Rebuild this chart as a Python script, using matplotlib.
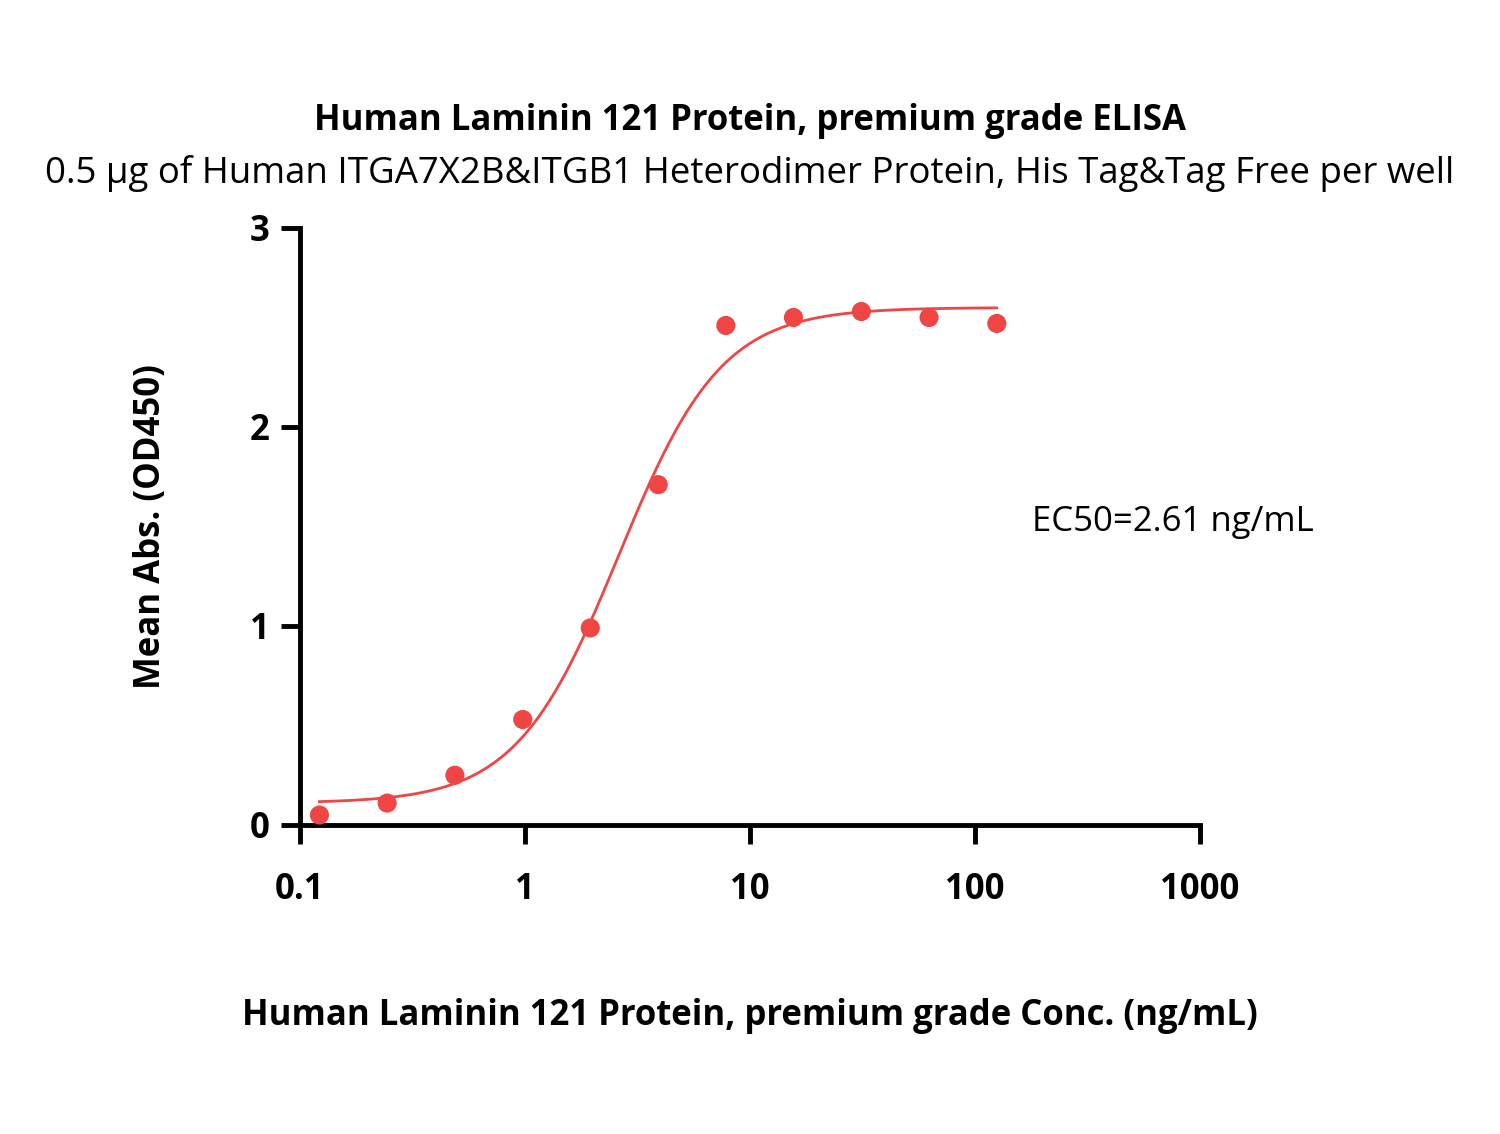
import numpy as np
import matplotlib.pyplot as plt

plt.rcParams['font.family'] = ['Open Sans', 'DejaVu Sans']

conc = [0.122, 0.244, 0.488, 0.977, 1.95, 3.91, 7.81, 15.6, 31.25, 62.5, 125]
od450 = [0.05, 0.11, 0.25, 0.53, 0.99, 1.71, 2.51, 2.55, 2.58, 2.55, 2.52]

# 4PL fit parameters
bottom, top, ec50, hill = 0.11, 2.60, 2.61, 1.9

red = '#f04545'

fig = plt.figure(figsize=(15, 11.34), dpi=100)
ax = fig.add_axes([0.2, 0.2725, 0.6, 0.5265])

xs = np.logspace(np.log10(conc[0]), np.log10(conc[-1]), 300)
ys = bottom + (top - bottom) / (1 + (ec50 / xs) ** hill)
ax.plot(xs, ys, color=red, lw=2)
ax.scatter(conc, od450, s=190, color=red, zorder=3, edgecolors='none')

ax.set_xscale('log')
ax.set_xlim(0.1, 1000)
ax.set_ylim(0, 3)
ax.set_xticks([0.1, 1, 10, 100, 1000])
ax.set_xticklabels(['0.1', '1', '10', '100', '1000'])
ax.set_yticks([0, 1, 2, 3])
ax.xaxis.set_minor_locator(plt.NullLocator())

for s in ['top', 'right']:
    ax.spines[s].set_visible(False)
for s in ['left', 'bottom']:
    ax.spines[s].set_linewidth(3.5)
ax.tick_params(width=3.5, length=14, labelsize=25)
ax.tick_params(axis='x', pad=20)
ax.tick_params(axis='y', pad=8)
for lab in ax.get_xticklabels() + ax.get_yticklabels():
    lab.set_fontweight('bold')

ax.text(180, 1.52, 'EC50=2.61 ng/mL', fontsize=25, va='center')

ax.set_ylabel('Mean Abs. (OD450)', fontsize=25, fontweight='bold', labelpad=58)
ax.set_xlabel('Human Laminin 121 Protein, premium grade Conc. (ng/mL)', fontsize=25,
              fontweight='bold', labelpad=65)

fig.text(0.5, 0.893, 'Human Laminin 121 Protein, premium grade ELISA', ha='center',
         va='center', fontsize=25, fontweight='bold')
fig.text(0.5, 0.847, '0.5 \u03bcg of Human ITGA7X2B&ITGB1 Heterodimer Protein, His Tag&Tag Free per well',
         ha='center', va='center', fontsize=26.4)

fig.savefig('out.png')
